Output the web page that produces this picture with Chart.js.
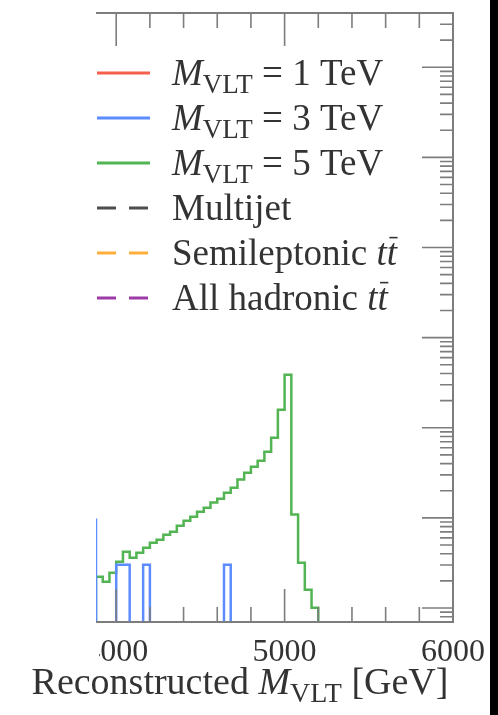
<!DOCTYPE html>
<html>
<head>
<meta charset="utf-8">
<script src="https://cdn.jsdelivr.net/npm/chart.js@4.4.0/dist/chart.umd.min.js"></script>
<style>
  html, body { margin: 0; padding: 0; background: #000; }
  canvas { display: block; background: #fff; }
</style>
</head>
<body>
<canvas id="massChart" width="490" height="715"></canvas>
<script>
// bin width of all histograms [GeV]
const BIN_WIDTH = 40;

// M_VLT = 5 TeV signal: lower bin edges and contents
const sig5Edges = [3880, 3920, 3960, 4000, 4040, 4080, 4120, 4160, 4200, 4240, 4280,
  4320, 4360, 4400, 4440, 4480, 4520, 4560, 4600, 4640, 4680, 4720, 4760, 4800,
  4840, 4880, 4920, 4960, 5000, 5040, 5080, 5120, 5160];
const sig5Values = [2.23e-4, 1.96e-4, 2.47e-4, 3.27e-4, 4.22e-4, 3.62e-4, 4.11e-4,
  4.67e-4, 5.31e-4, 5.73e-4, 6.51e-4, 7.03e-4, 8.19e-4, 9.31e-4, 1.03e-3, 1.17e-3,
  1.30e-3, 1.48e-3, 1.63e-3, 1.90e-3, 2.16e-3, 2.66e-3, 3.18e-3, 3.70e-3, 4.31e-3,
  5.43e-3, 7.77e-3, 1.59e-2, 3.88e-2, 1.09e-3, 3.18e-4, 1.60e-4, 1.01e-4];

// M_VLT = 3 TeV signal: only a few filled bins up here
const sig3Edges = [3840, 4000, 4040, 4160, 4640];
const sig3Values = [9.55e-4, 3.02e-4, 3.02e-4, 3.02e-4, 3.02e-4];

// the other samples have no entries above 3.9 TeV
const sig1Edges = [], sig1Values = [];
const multijetEdges = [], multijetValues = [];
const semilepEdges = [], semilepValues = [];
const allhadEdges = [], allhadValues = [];

// axes
const X_MIN = 3880, X_MAX = 6000;
const xTickLabels = [4000, 5000, 6000];
const Y_MIN = 7e-5, Y_MAX = 400;

const SERIF = 'Liberation Serif';
const TEXT = '#333';

// step outline of a histogram; empty stretches break the line
function histogram(edges, values) {
  const pts = [];
  edges.forEach((lo, i) => {
    if (i === 0 || edges[i - 1] + BIN_WIDTH !== lo) pts.push({x: lo, y: Y_MIN});
    pts.push({x: lo, y: values[i]});
    if (edges[i + 1] !== lo + BIN_WIDTH) {
      pts.push({x: lo + BIN_WIDTH, y: Y_MIN});
      pts.push({x: lo + BIN_WIDTH, y: null});
    }
  });
  return pts;
}

function series(parts, color, edges, values, dash) {
  return {
    label: parts.map(p => p[0]).join(''),
    labelParts: parts,
    data: histogram(edges, values),
    borderColor: color,
    borderWidth: 2.5,
    borderDash: dash || [],
    stepped: true,
    fill: false
  };
}

const MVLT = [['M', 'i'], ['VLT', 'sub']];
const datasets = [
  series([...MVLT, [' = 1 TeV', '']], '#f4604c', sig1Edges, sig1Values),
  series([...MVLT, [' = 3 TeV', '']], '#5c8cff', sig3Edges, sig3Values),
  series([...MVLT, [' = 5 TeV', '']], '#52b452', sig5Edges, sig5Values),
  series([['Multijet', '']], '#4d4d4d', multijetEdges, multijetValues, [19, 13]),
  series([['Semileptonic ', ''], ['t', 'i'], ['t', 'ibar']], '#ffad3b', semilepEdges, semilepValues, [19, 13]),
  series([['All hadronic ', ''], ['t', 'i'], ['t', 'ibar']], '#9c3aa8', allhadEdges, allhadValues, [19, 13])
];

// text with italic, subscript and barred pieces
function drawRich(ctx, parts, x, y, size, measureOnly) {
  for (const [text, style] of parts) {
    let font = size + 'px "' + SERIF + '"';
    let dy = 0;
    if (style === 'i' || style === 'ibar') font = 'italic ' + font;
    if (style === 'sub') {
      font = Math.round(size * 0.74) + 'px "' + SERIF + '"';
      dy = size * 0.22;
    }
    ctx.font = font;
    const w = ctx.measureText(text).width;
    if (!measureOnly) {
      ctx.fillText(text, x, y + dy);
      if (style === 'ibar') {
        ctx.save();
        ctx.strokeStyle = TEXT;
        ctx.lineWidth = 1.6;
        ctx.beginPath();
        ctx.moveTo(x + w * 0.25, y - size * 0.74);
        ctx.lineTo(x + w * 1.05, y - size * 0.74);
        ctx.stroke();
        ctx.restore();
      }
    }
    x += w;
  }
  return x;
}

const legendRows = {
  id: 'legendRows',
  afterDraw(chart) {
    const ctx = chart.ctx;
    ctx.save();
    chart.data.datasets.forEach((ds, i) => {
      const y = 73 + i * 45;
      ctx.strokeStyle = ds.borderColor;
      ctx.lineWidth = 3;
      ctx.setLineDash(ds.borderDash);
      ctx.beginPath();
      ctx.moveTo(97, y);
      ctx.lineTo(150, y);
      ctx.stroke();
      ctx.setLineDash([]);
      ctx.fillStyle = TEXT;
      ctx.textBaseline = 'alphabetic';
      drawRich(ctx, ds.labelParts, 172, y + 12, 37);
    });
    ctx.restore();
  }
};

const frame = {
  id: 'frame',
  afterDraw(chart) {
    const {ctx, chartArea: a, scales: {x, y}} = chart;
    ctx.save();
    // tick labels stop at the left plot edge
    ctx.fillStyle = '#fff';
    ctx.fillRect(0, a.bottom + 2, a.left + 3, 60);

    ctx.strokeStyle = '#7d7d7d';
    ctx.lineWidth = 2;
    ctx.beginPath();
    ctx.moveTo(a.left, a.top);
    ctx.lineTo(a.right, a.top);
    ctx.lineTo(a.right, a.bottom);
    ctx.lineTo(a.left, a.bottom);
    ctx.stroke();

    // inward ticks: x on top and bottom, log y on the right
    ctx.lineWidth = 1.6;
    ctx.beginPath();
    for (let v = Math.ceil(X_MIN / 200) * 200; v < X_MAX; v += 200) {
      const px = x.getPixelForValue(v);
      const len = v % 1000 === 0 ? 33 : 15;
      ctx.moveTo(px, a.top);
      ctx.lineTo(px, a.top + len);
      ctx.moveTo(px, a.bottom);
      ctx.lineTo(px, a.bottom - len);
    }
    for (let dec = -5; dec <= 2; dec++) {
      for (let m = 1; m <= 9; m++) {
        const v = m * Math.pow(10, dec);
        if (v <= Y_MIN * 1.001 || v >= Y_MAX * 0.999) continue;
        const py = y.getPixelForValue(v);
        ctx.moveTo(a.right, py);
        ctx.lineTo(a.right - (m === 1 ? 31 : 13), py);
      }
    }
    ctx.stroke();

    // axis title
    const title = [['Reconstructed ', ''], ...MVLT, [' [GeV]', '']];
    const size = 38;
    const w = drawRich(ctx, title, 0, 0, size, true);
    ctx.fillStyle = TEXT;
    ctx.textBaseline = 'alphabetic';
    drawRich(ctx, title, 240 - w / 2, 694, size);
    ctx.restore();
  }
};

new Chart(document.getElementById('massChart'), {
  type: 'line',
  data: { datasets },
  options: {
    responsive: false,
    animation: false,
    devicePixelRatio: 1,
    layout: { padding: { left: 96, right: 37, top: 13, bottom: 0 } },
    elements: { point: { radius: 0 } },
    plugins: { legend: { display: false }, tooltip: { enabled: false } },
    scales: {
      x: {
        type: 'linear',
        min: X_MIN,
        max: X_MAX,
        grid: { display: false, drawTicks: false },
        border: { display: false },
        afterBuildTicks: s => { s.ticks = xTickLabels.map(v => ({ value: v })); },
        afterFit: s => {
          s.height = 93;
          s.paddingLeft = 0;
          s.paddingRight = 0;
        },
        ticks: {
          font: { family: SERIF, size: 32 },
          color: TEXT,
          padding: 11,
          maxRotation: 0,
          autoSkip: false,
          callback: v => String(v)
        }
      },
      y: { type: 'logarithmic', min: Y_MIN, max: Y_MAX, display: false }
    }
  },
  plugins: [frame, legendRows]
});
</script>
</body>
</html>
